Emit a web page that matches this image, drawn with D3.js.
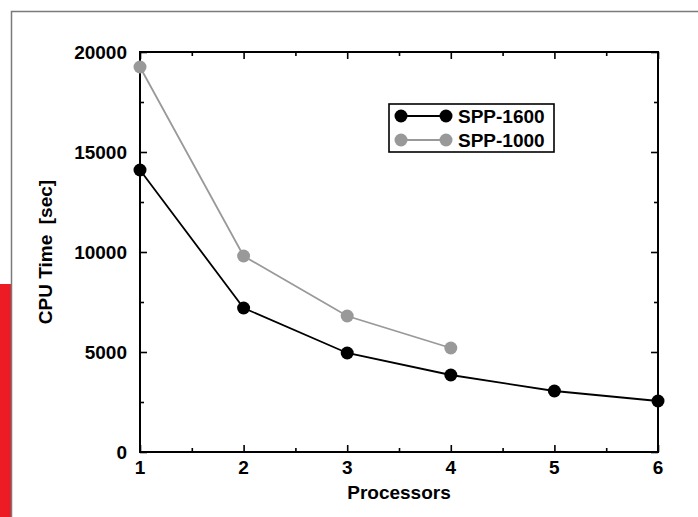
<!DOCTYPE html>
<html>
<head>
<meta charset="utf-8">
<script src="https://cdn.jsdelivr.net/npm/d3@7"></script>
<style>
  body { margin: 0; background: #fff; }
  svg { display: block; }
  text { font-family: "Liberation Sans", Arial, sans-serif; font-weight: bold; }
</style>
</head>
<body>
<div id="chart"></div>
<script>
"use strict";

const processors = [1, 2, 3, 4, 5, 6];
const spp1600 = [14100, 7200, 4950, 3850, 3050, 2550];
const spp1000 = [19250, 9800, 6800, 5200];
const xTicks = [1, 2, 3, 4, 5, 6];
const yTicks = [0, 5000, 10000, 15000, 20000];
const seriesNames = ["SPP-1600", "SPP-1000"];
const seriesColors = ["#000000", "#999999"];

const W = 698, H = 517;
const margin = { left: 140, top: 52, right: 40, bottom: 65 };
const fs = 19;

const svg = d3.select("#chart").append("svg")
    .attr("width", W)
    .attr("height", H);

// frame pieces around the figure
svg.append("rect")
    .attr("x", 0).attr("y", 284)
    .attr("width", 11).attr("height", H - 284)
    .attr("fill", "#ed1c24");
svg.append("rect")
    .attr("x", 11.5).attr("y", 11.5)
    .attr("width", W).attr("height", H)
    .attr("fill", "none")
    .attr("stroke", "#7a7a7a")
    .attr("stroke-width", 1.5);

const x = d3.scaleLinear().domain([1, 6]).range([margin.left, W - margin.right]);
const y = d3.scaleLinear().domain([0, 20000]).range([H - margin.bottom, margin.top]);

const g = svg.append("g");

// inward ticks on all four sides
function addAxis(axisFn, transform, ticks, size) {
    const a = g.append("g")
        .attr("transform", transform)
        .call(axisFn.tickValues(ticks).tickSize(-size).tickFormat(""));
    a.select(".domain").remove();
    a.selectAll(".tick line").attr("stroke", "#000").attr("stroke-width", 1.6);
    return a;
}
const xMinor = d3.range(1.5, 6, 1);
const yMinor = d3.range(2500, 20000, 5000);
const bottomY = y(0), topY = y(20000), leftX = x(1), rightX = x(6);

addAxis(d3.axisBottom(x), `translate(0,${bottomY})`, xMinor, 4);
addAxis(d3.axisTop(x), `translate(0,${topY})`, xMinor, 4);
addAxis(d3.axisLeft(y), `translate(${leftX},0)`, yMinor, 4);
addAxis(d3.axisRight(y), `translate(${rightX},0)`, yMinor, 4);
addAxis(d3.axisBottom(x), `translate(0,${bottomY})`, xTicks, 7);
addAxis(d3.axisTop(x), `translate(0,${topY})`, xTicks, 7);
addAxis(d3.axisLeft(y), `translate(${leftX},0)`, yTicks, 7);
addAxis(d3.axisRight(y), `translate(${rightX},0)`, yTicks, 7);

// plot box
g.append("rect")
    .attr("x", leftX).attr("y", topY)
    .attr("width", rightX - leftX).attr("height", bottomY - topY)
    .attr("fill", "none")
    .attr("stroke", "#000")
    .attr("stroke-width", 2);

// tick labels
g.selectAll(".xlab").data(xTicks).enter().append("text")
    .attr("x", d => x(d))
    .attr("y", bottomY + 22)
    .attr("text-anchor", "middle")
    .attr("font-size", fs)
    .text(d => d);
g.selectAll(".ylab").data(yTicks).enter().append("text")
    .attr("x", leftX - 13)
    .attr("y", d => y(d) + 7)
    .attr("text-anchor", "end")
    .attr("font-size", fs)
    .text(d => d);

// axis titles
g.append("text")
    .attr("x", (leftX + rightX) / 2)
    .attr("y", bottomY + 47)
    .attr("text-anchor", "middle")
    .attr("font-size", fs)
    .text("Processors");
g.append("text")
    .attr("transform", `translate(52,${(topY + bottomY) / 2}) rotate(-90)`)
    .attr("text-anchor", "middle")
    .attr("font-size", fs)
    .style("white-space", "pre")
    .text("CPU Time  [sec]");

// series
const series = [spp1600, spp1000];
const line = d3.line().x((d, i) => x(processors[i])).y(d => y(d));
series.forEach((vals, k) => {
    g.append("path")
        .datum(vals)
        .attr("d", line)
        .attr("fill", "none")
        .attr("stroke", seriesColors[k])
        .attr("stroke-width", 1.8);
    g.selectAll(".pt" + k).data(vals).enter().append("circle")
        .attr("cx", (d, i) => x(processors[i]))
        .attr("cy", d => y(d))
        .attr("r", 6.5)
        .attr("fill", seriesColors[k]);
});

// legend
const lg = g.append("g").attr("transform", "translate(389,104)");
lg.append("rect")
    .attr("width", 165).attr("height", 48)
    .attr("fill", "#fff")
    .attr("stroke", "#000")
    .attr("stroke-width", 1.6);
seriesNames.forEach((name, k) => {
    const ry = 12 + k * 24;
    lg.append("line")
        .attr("x1", 12).attr("x2", 57)
        .attr("y1", ry).attr("y2", ry)
        .attr("stroke", seriesColors[k])
        .attr("stroke-width", 1.8);
    [12, 57].forEach(cx => lg.append("circle")
        .attr("cx", cx).attr("cy", ry).attr("r", 6.5)
        .attr("fill", seriesColors[k]));
    lg.append("text")
        .attr("x", 69).attr("y", ry + 7)
        .attr("font-size", fs)
        .text(name);
});
</script>
</body>
</html>
